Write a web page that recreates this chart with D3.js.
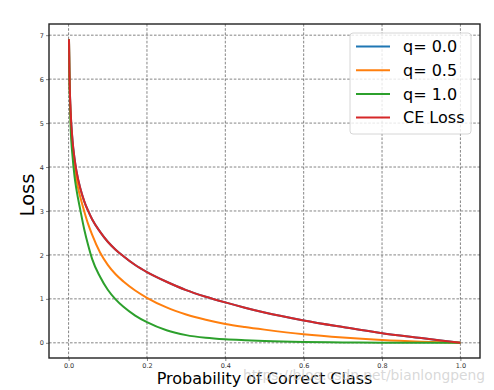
<!DOCTYPE html>
<html><head><meta charset="utf-8">
<script src="https://cdn.jsdelivr.net/npm/d3@7"></script>
<style>html,body{margin:0;padding:0;background:#fff;}svg{display:block;}</style>
</head><body>
<script>
const probs =   [0.001,0.002,0.003,0.005,0.01,0.015,0.02,0.03,0.04,0.05,0.06,0.08,0.10,0.12,0.14,0.17,0.20,0.25,0.30,0.35,0.40,0.45,0.50,0.60,0.70,0.80,0.90,1.0];
const lossQ0 =  [6.91,6.21,5.81,5.30,4.61,4.20,3.91,3.51,3.22,3.00,2.81,2.53,2.30,2.12,1.97,1.77,1.61,1.39,1.20,1.05,0.92,0.80,0.69,0.51,0.36,0.22,0.11,0.00];
const lossQ05 = [6.91,6.17,5.74,5.15,4.42,4.00,3.71,3.31,2.99,2.70,2.46,2.06,1.775,1.56,1.395,1.19,1.025,0.805,0.645,0.525,0.43,0.36,0.30,0.195,0.12,0.065,0.027,0.00];
const lossQ1 =  [6.91,6.13,5.66,4.98,4.25,3.80,3.49,3.02,2.58,2.22,1.91,1.508,1.208,0.988,0.818,0.62,0.47,0.285,0.175,0.115,0.08,0.058,0.04,0.018,0.008,0.003,0.001,0.00];
const lossCE =  [6.91,6.21,5.81,5.30,4.61,4.20,3.91,3.51,3.22,3.00,2.81,2.53,2.30,2.12,1.97,1.77,1.61,1.39,1.20,1.05,0.92,0.80,0.69,0.51,0.36,0.22,0.11,0.00];
const seriesNames = ["q= 0.0","q= 0.5","q= 1.0","CE Loss"];
const seriesColors = ["#1f77b4","#ff7f0e","#2ca02c","#d62728"];
const xTicks = [0.0,0.2,0.4,0.6,0.8,1.0];
const yTicks = [0,1,2,3,4,5,6,7];

const W=494,H=390;
const L=49,R=480,T=24,B=358;
const svg=d3.select("body").append("svg").attr("width",W).attr("height",H);
const x=d3.scaleLinear().domain([-0.05,1.05]).range([L,R]);
const y=d3.scaleLinear().domain([-0.3455,7.2545]).range([B,T]);

// grid
const g=svg.append("g");
g.selectAll(".vg").data(xTicks).enter().append("line")
 .attr("x1",d=>x(d)).attr("x2",d=>x(d)).attr("y1",T).attr("y2",B)
 .attr("stroke","#666").attr("stroke-width",0.8).attr("stroke-dasharray","2.6,1.6");
g.selectAll(".hg").data(yTicks).enter().append("line")
 .attr("y1",d=>y(d)).attr("y2",d=>y(d)).attr("x1",L).attr("x2",R)
 .attr("stroke","#666").attr("stroke-width",0.8).attr("stroke-dasharray","2.6,1.6");

// axes
const xAxis=d3.axisBottom(x).tickValues(xTicks).tickFormat(d3.format(".1f")).tickSize(3).tickPadding(2);
const yAxis=d3.axisLeft(y).tickValues(yTicks).tickFormat(d3.format("d")).tickSize(3).tickPadding(2);
const ax=svg.append("g").attr("transform",`translate(0,${B})`).call(xAxis);
const ay=svg.append("g").attr("transform",`translate(${L},0)`).call(yAxis);
[ax,ay].forEach(a=>{a.select(".domain").remove();
 a.selectAll("text").attr("font-family","DejaVu Sans").attr("font-size",6.5).attr("fill","#333");
 a.selectAll("line").attr("stroke","#333").attr("stroke-width",0.6);});

// lines
const data=[lossQ0,lossQ05,lossQ1,lossCE];
const line=d3.line().x((d,i)=>x(probs[i])).y(d=>y(d)).curve(d3.curveMonotoneX);
svg.append("g").selectAll("path").data(data).enter().append("path")
 .attr("d",d=>line(d)).attr("fill","none")
 .attr("stroke",(d,i)=>seriesColors[i]).attr("stroke-width",2);

// frame
svg.append("rect").attr("x",L).attr("y",T).attr("width",R-L).attr("height",B-T)
 .attr("fill","none").attr("stroke","#222").attr("stroke-width",1.4);

// legend
const lg=svg.append("g");
lg.append("rect").attr("x",350).attr("y",33).attr("width",121).attr("height",101).attr("rx",3)
 .attr("fill","#fff").attr("fill-opacity",0.8).attr("stroke","#ccc").attr("stroke-width",0.8);
seriesNames.forEach((n,i)=>{
 const yy=46.5+i*23.7;
 lg.append("line").attr("x1",356).attr("x2",390).attr("y1",yy).attr("y2",yy)
  .attr("stroke",seriesColors[i]).attr("stroke-width",2);
 lg.append("text").attr("x",403).attr("y",yy).attr("dy","0.36em").text(n)
  .attr("font-family","DejaVu Sans").attr("font-size",16).attr("fill","#000");
});

// labels
svg.append("text").attr("x",(L+R)/2).attr("y",384).attr("text-anchor","middle")
 .attr("font-family","DejaVu Sans").attr("font-size",16).attr("fill","#000").text("Probability of Correct Class");
svg.append("text").attr("transform",`translate(34,${(T+B)/2+4}) rotate(-90)`).attr("text-anchor","middle")
 .attr("font-family","DejaVu Sans").attr("font-size",19.5).attr("fill","#000").text("Loss");

// watermark
svg.append("text").attr("x",243).attr("y",380).attr("font-family","DejaVu Sans").attr("font-size",13.8)
 .attr("fill","#c8c8c8").attr("fill-opacity",0.7).text("https://blog.csdn.net/bianlongpeng");
</script>
</body></html>
